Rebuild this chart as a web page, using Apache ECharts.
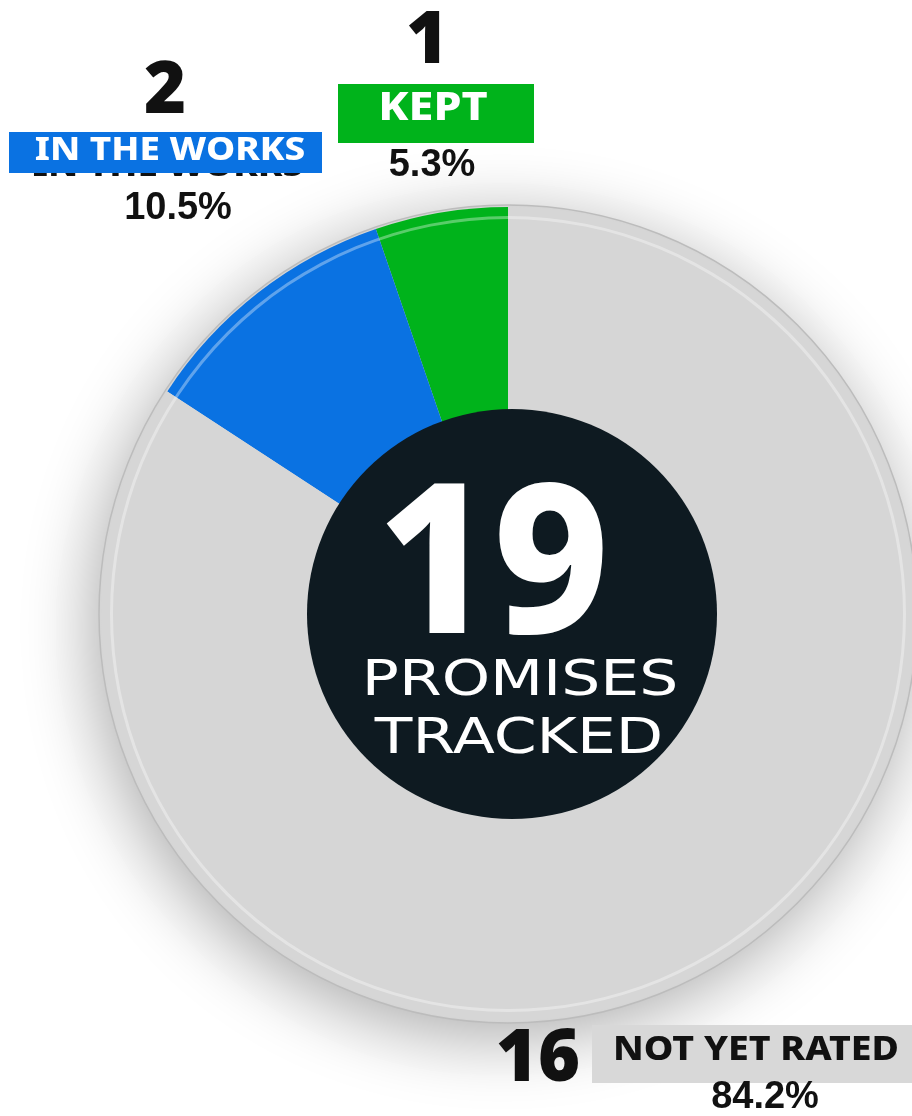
<!DOCTYPE html>
<html>
<head>
<meta charset="utf-8">
<script src="https://cdn.jsdelivr.net/npm/echarts@6/dist/echarts.min.js"></script>
<style>
  html, body { margin: 0; padding: 0; background: #fff; }
  #chart { width: 912px; height: 1116px; }
</style>
</head>
<body>
<div id="chart"></div>
<script>
// promise tracker data
var categories = ['KEPT', 'IN THE WORKS', 'NOT YET RATED'];
var counts = [1, 2, 16];
var colors = ['#00b31b', '#0a72e2', '#d6d6d6'];
var total = counts.reduce(function (a, b) { return a + b; }, 0);
var percents = counts.map(function (c) { return (c / total * 100).toFixed(1) + '%'; });

var chart = echarts.init(document.getElementById('chart'));

var numFont = '900 72px "Noto Sans", "DejaVu Sans", sans-serif';
var pctFont = 'bold 38px "Liberation Sans", Arial, sans-serif';
function tagFont(size) {
    return '800 ' + size + 'px "Noto Sans", "DejaVu Sans", sans-serif';
}

function txt(text, x, y, font, fill, z, sx) {
    return {
        type: 'text', z: z || 10,
        x: x, y: y, scaleX: sx || 1,
        style: { text: text, x: 0, y: 0, font: font, fill: fill, align: 'center', verticalAlign: 'middle' }
    };
}

var option = {
    backgroundColor: '#ffffff',
    animation: false,
    series: [
        // shadow disc under the pie
        {
            type: 'pie',
            silent: true,
            center: [508, 614],
            radius: [0, 409],
            z: 1,
            label: { show: false },
            itemStyle: {
                color: '#d6d6d6',
                borderColor: '#bcbcbc',
                borderWidth: 1.5,
                shadowBlur: 70,
                shadowColor: 'rgba(0,0,0,0.33)',
                shadowOffsetX: -6,
                shadowOffsetY: 14
            },
            data: [{ value: total, name: 'all' }]
        },
        // slices
        {
            type: 'pie',
            center: [508, 614],
            radius: [0, 407],
            startAngle: 90,
            clockwise: false,
            z: 2,
            label: { show: false },
            labelLine: { show: false },
            itemStyle: { borderWidth: 0 },
            data: categories.map(function (c, i) {
                return { name: c, value: counts[i], itemStyle: { color: colors[i] } };
            })
        },
        // rim highlight
        {
            type: 'pie',
            silent: true,
            center: [508, 614],
            radius: [395, 398],
            z: 3,
            label: { show: false },
            itemStyle: { color: 'rgba(255,255,255,0.35)' },
            data: [{ value: total, name: 'rim' }]
        },
        // dark centre disc
        {
            type: 'pie',
            silent: true,
            center: [512, 614],
            radius: [0, 205],
            z: 4,
            label: { show: false },
            itemStyle: { color: '#0e1a21' },
            data: [{ value: total, name: 'total' }]
        }
    ],
    graphic: [
        // IN THE WORKS
        txt(String(counts[1]), 165, 92, numFont, '#111'),
        txt(categories[1], 168, 167, tagFont(32), '#111', 8, 1.15),
        { type: 'rect', z: 9, shape: { x: 9, y: 132, width: 313, height: 41 }, style: { fill: colors[1] } },
        txt(categories[1], 170, 151, tagFont(32), '#ffffff', 10, 1.15),
        txt(percents[1], 178, 209, pctFont, '#111'),
        // KEPT
        txt(String(counts[0]), 427, 42, numFont, '#111'),
        { type: 'rect', z: 9, shape: { x: 338, y: 84, width: 196, height: 59 }, style: { fill: colors[0] } },
        txt(categories[0], 433, 109, tagFont(39), '#ffffff', 10, 1.15),
        txt(percents[0], 432, 166, pctFont, '#111'),
        // NOT YET RATED
        txt(String(counts[2]), 538, 1060, numFont, '#111'),
        { type: 'rect', z: 9, shape: { x: 592, y: 1025, width: 320, height: 58 }, style: { fill: '#d8d8d8' } },
        txt(categories[2], 756, 1050, tagFont(34), '#111', 10, 1.1),
        txt(percents[2], 765, 1098, pctFont, '#111'),
        // centre text
        txt(String(total), 493, 573, '800 209px "Noto Sans", "DejaVu Sans", sans-serif', '#ffffff', 20, 0.965),
        txt('PROMISES', 520, 682, '50px "DejaVu Sans", sans-serif', '#ffffff', 20, 1.23),
        txt('TRACKED', 519, 740, '50px "DejaVu Sans", sans-serif', '#ffffff', 20, 1.23)
    ]
};
chart.setOption(option);
</script>
</body>
</html>
